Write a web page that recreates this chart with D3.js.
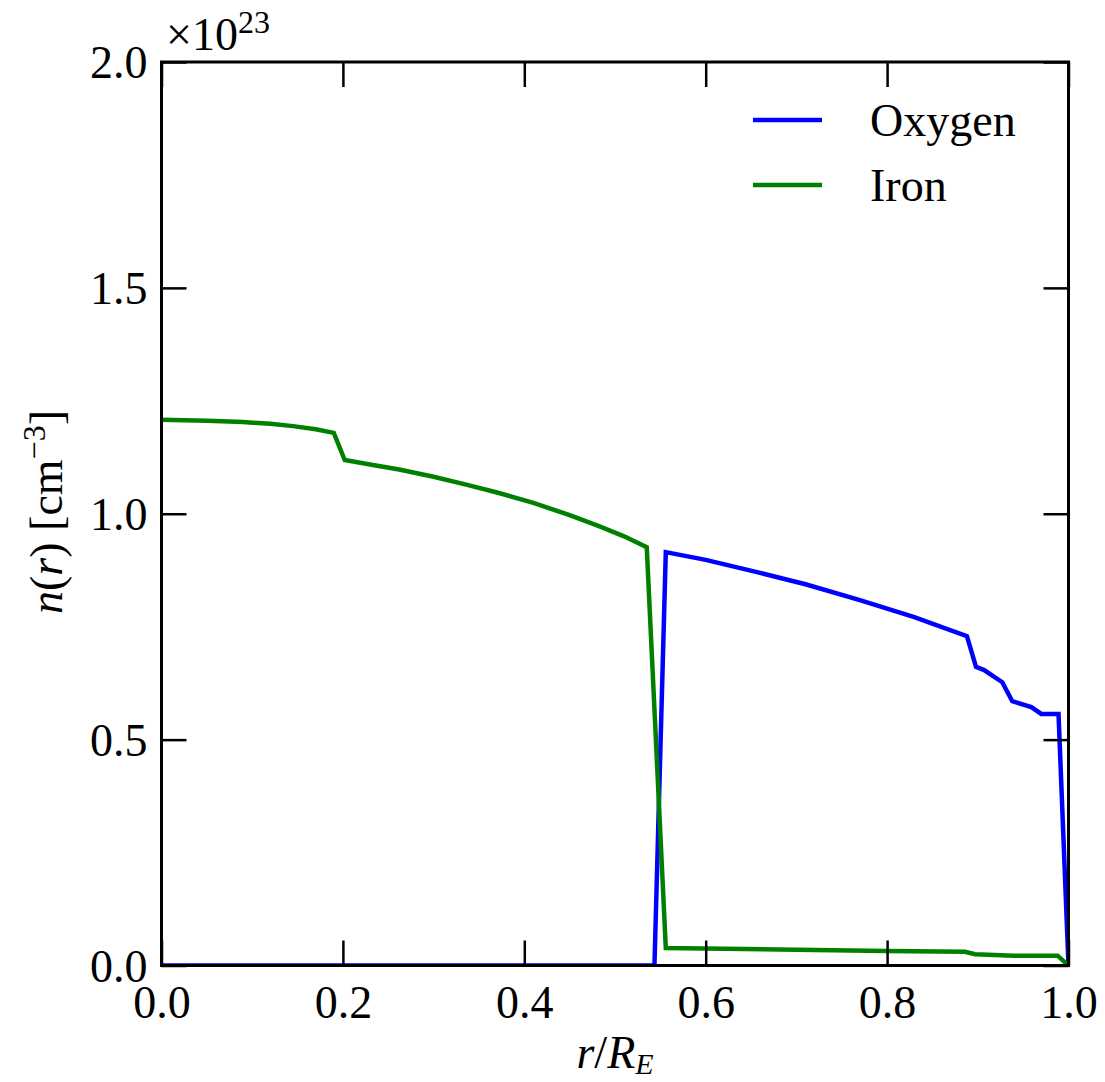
<!DOCTYPE html>
<html><head><meta charset="utf-8">
<script src="https://cdn.jsdelivr.net/npm/d3@7"></script>
<style>
body{margin:0;background:#fff;}
svg text{font-family:"Liberation Serif","Times New Roman",serif;fill:#000;}
</style></head>
<body><svg id="c" width="1105" height="1082"></svg>
<script>
// values in units of 1e23 cm^-3
const SCALE_EXP = 23;
const ironR = [0.0, 0.05, 0.09, 0.12, 0.145, 0.17, 0.190, 0.202, 0.23, 0.262, 0.30, 0.337, 0.37, 0.41, 0.45, 0.483, 0.51, 0.535, 0.556, 0.70, 0.80, 0.886, 0.897, 0.94, 0.988, 1.0];
const ironN = [1.208, 1.206, 1.203, 1.199, 1.194, 1.187, 1.179, 1.119, 1.109, 1.098, 1.082, 1.064, 1.047, 1.024, 0.997, 0.972, 0.950, 0.926, 0.0387, 0.035, 0.032, 0.0305, 0.025, 0.0217, 0.0217, 0.0];
const oxyR = [0.0, 0.5435, 0.556, 0.60, 0.66, 0.71, 0.77, 0.83, 0.888, 0.898, 0.907, 0.927, 0.938, 0.959, 0.970, 0.989, 1.0];
const oxyN = [0.0, 0.0, 0.915, 0.898, 0.869, 0.844, 0.809, 0.771, 0.729, 0.661, 0.654, 0.627, 0.585, 0.572, 0.557, 0.557, 0.0];
const xTicks = [0.0, 0.2, 0.4, 0.6, 0.8, 1.0];
const yTicks = [0.0, 0.5, 1.0, 1.5, 2.0];
const seriesNames = ["Oxygen", "Iron"];
const seriesColors = ["#0000ff", "#008000"];

const svg = d3.select("#c");
const L = 161.5, R = 1068.5, T = 62, B = 965.5;
const x = d3.scaleLinear().domain([0, 1]).range([L, R]);
const y = d3.scaleLinear().domain([0, 2]).range([B, T]);
const tickLen = 25;

const line = d3.line().x(d => x(d[0])).y(d => y(d[1]));
svg.append("clipPath").attr("id", "clp").append("rect")
  .attr("x", L).attr("y", T).attr("width", R - L).attr("height", B - T);

const series = [
  {name: seriesNames[0], color: seriesColors[0], pts: oxyR.map((r, i) => [r, oxyN[i]])},
  {name: seriesNames[1], color: seriesColors[1], pts: ironR.map((r, i) => [r, ironN[i]])}
];
const g = svg.append("g").attr("clip-path", "url(#clp)");
series.forEach(s => {
  g.append("path").attr("d", line(s.pts)).attr("fill", "none")
    .attr("stroke", s.color).attr("stroke-width", 4.5).attr("stroke-linejoin", "miter");
});

// axes with inward ticks
const fs = 46;
const axB = d3.axisBottom(x).tickValues(xTicks).tickSizeInner(-tickLen).tickSizeOuter(0).tickPadding(20).tickFormat(d3.format(".1f"));
const axT = d3.axisTop(x).tickValues(xTicks).tickSizeInner(-tickLen).tickSizeOuter(0).tickFormat("");
const axL = d3.axisLeft(y).tickValues(yTicks).tickSizeInner(-tickLen).tickSizeOuter(0).tickPadding(14).tickFormat(d3.format(".1f"));
const axR = d3.axisRight(y).tickValues(yTicks).tickSizeInner(-tickLen).tickSizeOuter(0).tickFormat("");
function style(sel) {
  sel.select(".domain").remove();
  sel.selectAll(".tick line").attr("stroke", "#000").attr("stroke-width", 2.5);
  sel.selectAll(".tick text").style("font-size", fs + "px").attr("fill", "#000");
}
svg.append("g").attr("transform", `translate(0,${B})`).call(axB).call(style)
  .selectAll(".tick text").attr("dy", "0.71em");
svg.append("g").attr("transform", `translate(0,${T})`).call(axT).call(style);
svg.append("g").attr("transform", `translate(${L},0)`).call(axL).call(style)
  .selectAll(".tick text").attr("dy", "0.34em");
svg.append("g").attr("transform", `translate(${R},0)`).call(axR).call(style);

svg.append("rect").attr("x", L).attr("y", T).attr("width", R - L).attr("height", B - T)
  .attr("fill", "none").attr("stroke", "#000").attr("stroke-width", 3);

// offset text
const off = svg.append("text").attr("x", 166).attr("y", 50).style("font-size", fs + "px");
off.append("tspan").text("×10");
off.append("tspan").attr("dy", -17).style("font-size", "32px").text(String(SCALE_EXP));

// x label
const xl = svg.append("text").attr("x", 615).attr("y", 1068).attr("text-anchor", "middle").style("font-size", fs + "px");
xl.append("tspan").style("font-style", "italic").text("r");
xl.append("tspan").text("/");
xl.append("tspan").style("font-style", "italic").text("R");
xl.append("tspan").style("font-style", "italic").style("font-size", "30px").attr("dy", 6).text("E");

// y label
const yl = svg.append("text").attr("transform", "translate(62,512) rotate(-90)")
  .attr("text-anchor", "middle").style("font-size", fs + "px");
yl.append("tspan").style("font-style", "italic").text("n");
yl.append("tspan").text("(");
yl.append("tspan").style("font-style", "italic").text("r");
yl.append("tspan").text(") [cm");
yl.append("tspan").attr("dy", -17).style("font-size", "32px").text("−3");
yl.append("tspan").attr("dy", 17).text("]");

// legend
const leg = svg.append("g");
series.forEach((s, i) => {
  const yy = 120 + i * 65;
  leg.append("line").attr("x1", 753).attr("x2", 822).attr("y1", yy).attr("y2", yy)
    .attr("stroke", s.color).attr("stroke-width", 4.5);
  leg.append("text").attr("x", 870).attr("y", yy + 16).style("font-size", fs + "px").text(s.name);
});
</script></body></html>
